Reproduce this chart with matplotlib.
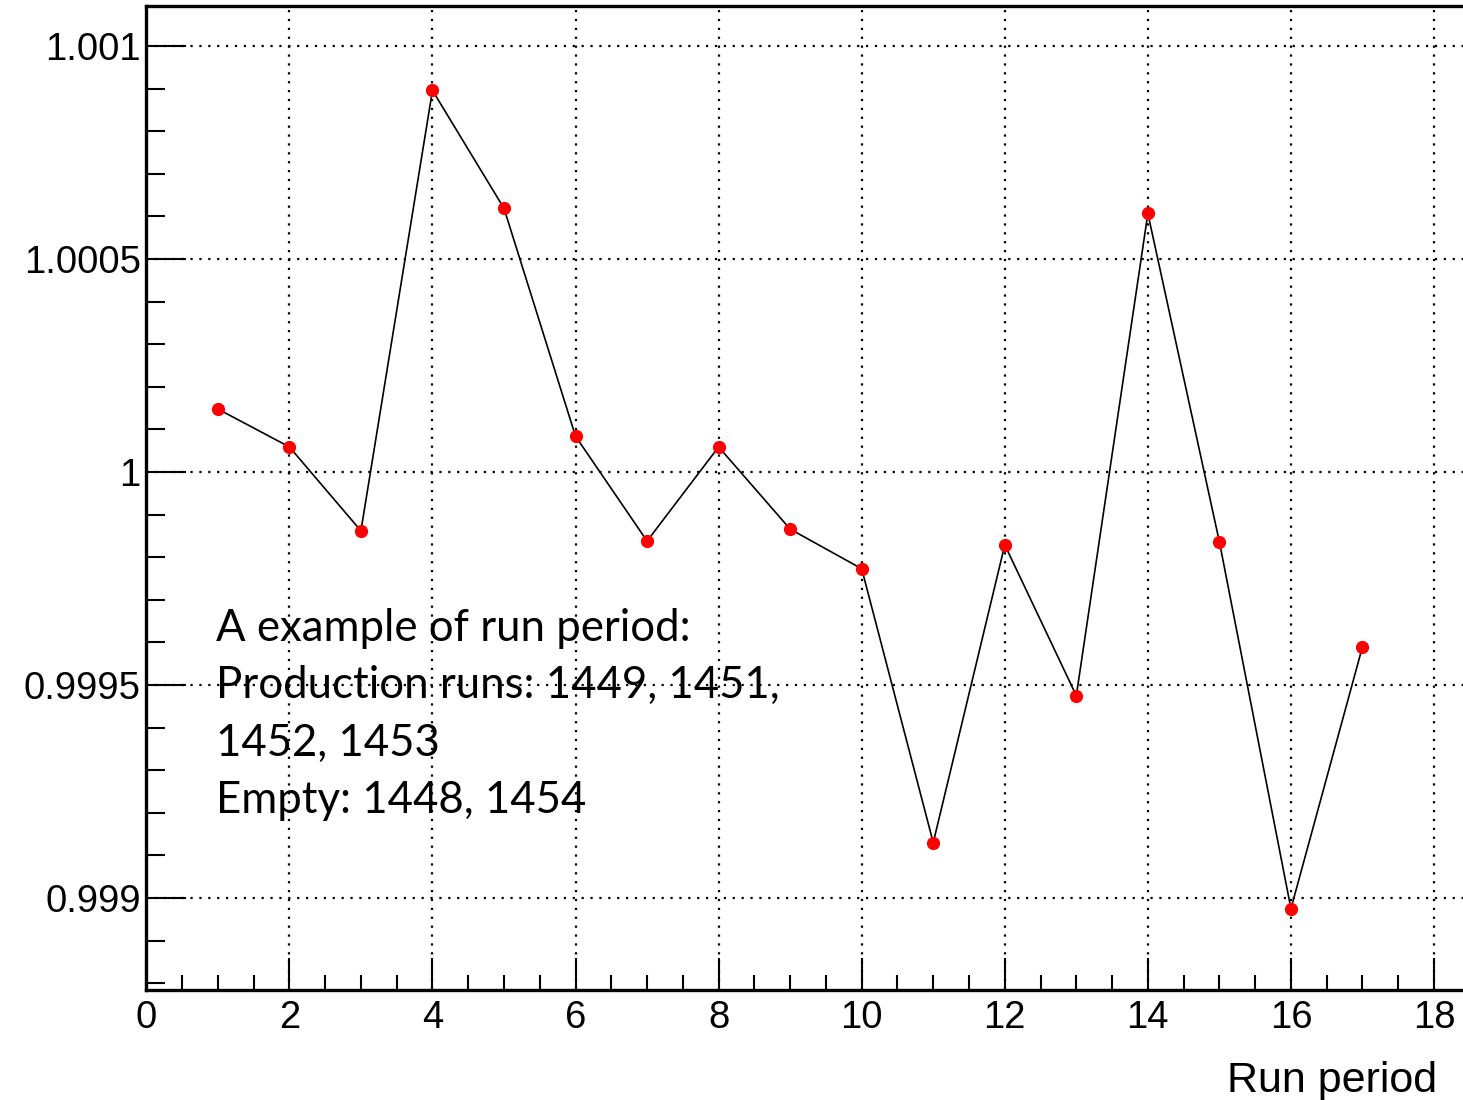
import matplotlib
matplotlib.use('Agg')
import matplotlib.pyplot as plt
from matplotlib.ticker import MultipleLocator

# ratio per run period
run_period = [1, 2, 3, 4, 5, 6, 7, 8, 9, 10, 11, 12, 13, 14, 15, 16, 17]
ratio = [1.000148, 1.000059, 0.999862, 1.000896, 1.000619, 1.000084,
         0.999838, 1.000059, 0.999866, 0.999773, 0.999130, 0.999829,
         0.999475, 1.000607, 0.999836, 0.998975, 0.999590]

y_ticks = [0.999, 0.9995, 1.0, 1.0005, 1.001]
y_labels = ['0.999', '0.9995', '1', '1.0005', '1.001']

note_lines = ['A example of run period:',
              'Production runs: 1449, 1451,',
              '1452, 1453',
              'Empty: 1448, 1454']

plt.rcParams['font.family'] = ['Liberation Sans', 'DejaVu Sans']

fig = plt.figure(figsize=(14.63, 11), dpi=100)
ax = fig.add_axes([0.1, 0.1, 0.9, 0.8945])

ax.plot(run_period, ratio, color='black', lw=1.2, zorder=3)
ax.plot(run_period, ratio, 'o', color='red', ms=8.5, mec='red', zorder=4)

ax.set_xlim(0, 18.405)
ax.set_ylim(0.998784, 1.001094)

ax.xaxis.set_major_locator(MultipleLocator(2))
ax.xaxis.set_minor_locator(MultipleLocator(0.5))
ax.set_yticks(y_ticks)
ax.set_yticklabels(y_labels)
ax.yaxis.set_minor_locator(MultipleLocator(0.0001))

ax.tick_params(which='both', direction='in', top=False, right=False,
               width=1.5, labelsize=27.5, colors='black')
ax.tick_params(axis='x', which='major', length=23, pad=7)
ax.tick_params(axis='x', which='minor', length=11)
ax.tick_params(axis='y', which='major', length=29, pad=4)
ax.tick_params(axis='y', which='minor', length=14)

ax.grid(True, which='major', color='black', linestyle=(0, (1, 3)), lw=1.6)

for side in ['left', 'bottom', 'top']:
    ax.spines[side].set_linewidth(2.4)
ax.spines['right'].set_visible(False)

ax.set_xlabel('Run period', fontsize=31, ha='right', x=0.98, labelpad=18)

# run list annotation, top-left corner sits just under the 1 - 0.0003 level
note = '\n'.join(note_lines)
ax.text(0.98, 0.999681, note, fontsize=31.5, family=['Lato', 'DejaVu Sans'],
        va='top', ha='left', linespacing=1.5, zorder=2)

fig.savefig('out.png', dpi=100)
plt.close(fig)
